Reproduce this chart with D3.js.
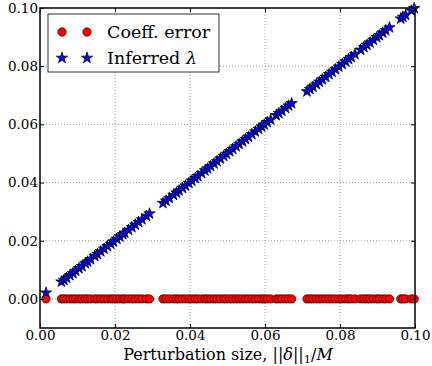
<!DOCTYPE html>
<html>
<head>
<meta charset="utf-8">
<script src="https://cdn.jsdelivr.net/npm/d3@7"></script>
<style>
  body { margin: 0; background: #fff; }
  svg { display: block; }
</style>
</head>
<body>
<div id="chart"></div>
<script>
// taille de la fenêtre
const width = 432;
const height = 366;
const margin = { left: 40, right: 17, top: 8, bottom: 38 };
const serif = "'DejaVu Serif', 'Liberation Serif', serif";

// perturbation size ||delta||_1 / M
const perturbation = [
  0.0016,
  0.0057, 0.0064, 0.0071, 0.0080, 0.0088, 0.0095, 0.0104, 0.0112, 0.0121, 0.0127,
  0.0135, 0.0146, 0.0153, 0.0162, 0.0171, 0.0180, 0.0189, 0.0196, 0.0205, 0.0213,
  0.0221, 0.0226, 0.0236, 0.0245, 0.0254, 0.0263, 0.0272, 0.0284, 0.0292,
  0.0328, 0.0336, 0.0345, 0.0356, 0.0364, 0.0371, 0.0380, 0.0388, 0.0397, 0.0405,
  0.0414, 0.0421, 0.0431, 0.0440, 0.0447, 0.0455, 0.0464, 0.0472, 0.0481, 0.0490,
  0.0497, 0.0506, 0.0514, 0.0523, 0.0531, 0.0540, 0.0548, 0.0556, 0.0565, 0.0574,
  0.0583, 0.0591, 0.0598, 0.0606, 0.0615, 0.0630, 0.0637, 0.0645, 0.0655, 0.0663,
  0.0671,
  0.0712, 0.0720, 0.0728, 0.0737, 0.0745, 0.0753, 0.0762, 0.0771, 0.0779, 0.0788,
  0.0797, 0.0806, 0.0815, 0.0823, 0.0830, 0.0840, 0.0855, 0.0864, 0.0872, 0.0880,
  0.0889, 0.0898, 0.0905, 0.0914, 0.0922, 0.0932,
  0.0962, 0.0968, 0.0975, 0.0990, 0.0998
];

// lambda inféré
const inferredLambda = [
  0.0021,
  0.0059, 0.0065, 0.0072, 0.0081, 0.0088, 0.0096, 0.0105, 0.0112, 0.0122, 0.0128,
  0.0136, 0.0147, 0.0154, 0.0163, 0.0172, 0.0181, 0.0189, 0.0197, 0.0206, 0.0214,
  0.0222, 0.0227, 0.0237, 0.0246, 0.0255, 0.0264, 0.0273, 0.0285, 0.0293,
  0.0329, 0.0337, 0.0346, 0.0357, 0.0365, 0.0372, 0.0381, 0.0389, 0.0398, 0.0406,
  0.0415, 0.0422, 0.0432, 0.0441, 0.0448, 0.0456, 0.0465, 0.0473, 0.0482, 0.0491,
  0.0498, 0.0507, 0.0515, 0.0524, 0.0532, 0.0541, 0.0549, 0.0557, 0.0566, 0.0575,
  0.0584, 0.0592, 0.0599, 0.0607, 0.0616, 0.0631, 0.0638, 0.0646, 0.0656, 0.0664,
  0.0672,
  0.0713, 0.0721, 0.0729, 0.0738, 0.0746, 0.0754, 0.0763, 0.0772, 0.0780, 0.0789,
  0.0798, 0.0807, 0.0816, 0.0824, 0.0831, 0.0841, 0.0856, 0.0865, 0.0873, 0.0881,
  0.0890, 0.0899, 0.0906, 0.0915, 0.0923, 0.0933,
  0.0963, 0.0969, 0.0976, 0.0991, 0.0999
];

// erreur des coefficients (toujours nulle)
const coeffError = [
  0,
  0, 0, 0, 0, 0, 0, 0, 0, 0, 0,
  0, 0, 0, 0, 0, 0, 0, 0, 0, 0,
  0, 0, 0, 0, 0, 0, 0, 0, 0,
  0, 0, 0, 0, 0, 0, 0, 0, 0, 0,
  0, 0, 0, 0, 0, 0, 0, 0, 0, 0,
  0, 0, 0, 0, 0, 0, 0, 0, 0, 0,
  0, 0, 0, 0, 0, 0, 0, 0, 0, 0,
  0,
  0, 0, 0, 0, 0, 0, 0, 0, 0, 0,
  0, 0, 0, 0, 0, 0, 0, 0, 0, 0,
  0, 0, 0, 0, 0, 0,
  0, 0, 0, 0, 0
];

const xTicks = [0.00, 0.02, 0.04, 0.06, 0.08, 0.10];
const yTicks = [0.00, 0.02, 0.04, 0.06, 0.08, 0.10];

const svg = d3.select("#chart")
  .append("svg")
  .attr("width", width)
  .attr("height", height)
  .attr("font-family", serif);

const x = d3.scaleLinear()
  .domain([0, 0.10])
  .range([margin.left, width - margin.right]);

const y = d3.scaleLinear()
  .domain([-0.01, 0.10])
  .range([height - margin.bottom, margin.top]);

// grille pointillée
const grid = svg.append("g")
  .attr("stroke", "#888")
  .attr("stroke-width", 0.8)
  .attr("stroke-dasharray", "1,2");

grid.selectAll("line.gx")
  .data(xTicks.slice(1, -1))
  .enter().append("line")
  .attr("x1", d => x(d)).attr("x2", d => x(d))
  .attr("y1", y(-0.01)).attr("y2", y(0.10));

grid.selectAll("line.gy")
  .data(yTicks.slice(0, -1))
  .enter().append("line")
  .attr("x1", x(0)).attr("x2", x(0.10))
  .attr("y1", d => y(d)).attr("y2", d => y(d));

// cercles rouges
const points = perturbation.map((p, i) => ({ p, err: coeffError[i], lam: inferredLambda[i] }));

svg.append("g")
  .selectAll("circle")
  .data(points)
  .enter().append("circle")
  .attr("cx", d => x(d.p))
  .attr("cy", d => y(d.err))
  .attr("r", 4.2)
  .attr("fill", "#ff0000")
  .attr("stroke", "#000")
  .attr("stroke-width", 0.6);

// étoiles bleues
const star = d3.symbol().type(d3.symbolStar).size(40);

svg.append("g")
  .selectAll("path")
  .data(points)
  .enter().append("path")
  .attr("d", star)
  .attr("transform", d => `translate(${x(d.p)},${y(d.lam)})`)
  .attr("fill", "#0000ff")
  .attr("stroke", "#000")
  .attr("stroke-width", 0.7);

// axes avec ticks vers l'intérieur
const tickLen = 4;
const styleTicks = g => {
  g.select(".domain").remove();
  g.attr("font-family", serif).attr("font-size", 13.5);
  g.selectAll("text").attr("font-family", serif).attr("font-size", 13.5);
};

svg.append("g")
  .attr("transform", `translate(0,${y(-0.01)})`)
  .call(d3.axisBottom(x).tickValues(xTicks).tickFormat(d3.format(".2f")).tickSizeInner(-tickLen).tickSizeOuter(0).tickPadding(2))
  .call(styleTicks);

svg.append("g")
  .attr("transform", `translate(0,${y(0.10)})`)
  .call(d3.axisTop(x).tickValues(xTicks).tickFormat("").tickSizeInner(-tickLen).tickSizeOuter(0))
  .call(styleTicks);

svg.append("g")
  .attr("transform", `translate(${x(0)},0)`)
  .call(d3.axisLeft(y).tickValues(yTicks).tickFormat(d3.format(".2f")).tickSizeInner(-tickLen).tickSizeOuter(0).tickPadding(2))
  .call(styleTicks);

svg.append("g")
  .attr("transform", `translate(${x(0.10)},0)`)
  .call(d3.axisRight(y).tickValues(yTicks).tickFormat("").tickSizeInner(-tickLen).tickSizeOuter(0))
  .call(styleTicks);

// cadre
svg.append("rect")
  .attr("x", x(0)).attr("y", y(0.10))
  .attr("width", x(0.10) - x(0))
  .attr("height", y(-0.01) - y(0.10))
  .attr("fill", "none")
  .attr("stroke", "#000")
  .attr("stroke-width", 1.5);

// légende
const legend = svg.append("g").attr("transform", "translate(48,14)");
legend.append("rect")
  .attr("width", 171).attr("height", 58)
  .attr("fill", "#fff").attr("stroke", "#000").attr("stroke-width", 0.8);

legend.selectAll("circle")
  .data([14, 39])
  .enter().append("circle")
  .attr("cx", d => d).attr("cy", 18).attr("r", 4.2)
  .attr("fill", "#ff0000").attr("stroke", "#000").attr("stroke-width", 0.6);

legend.selectAll("path")
  .data([14, 39])
  .enter().append("path")
  .attr("d", star)
  .attr("transform", d => `translate(${d},44)`)
  .attr("fill", "#0000ff").attr("stroke", "#000").attr("stroke-width", 0.7);

legend.append("text")
  .attr("x", 59).attr("y", 24)
  .attr("font-size", 17.5)
  .text("Coeff. error");

const lt = legend.append("text")
  .attr("x", 59).attr("y", 50)
  .attr("font-size", 17.5);
lt.append("tspan").text("Inferred ");
lt.append("tspan").attr("font-style", "italic").text("λ");

// titre de l'axe x
const xl = svg.append("text")
  .attr("x", 228)
  .attr("y", 360)
  .attr("text-anchor", "middle")
  .attr("font-size", 16);
xl.append("tspan").text("Perturbation size, ||");
xl.append("tspan").attr("font-style", "italic").text("δ");
xl.append("tspan").text("||");
xl.append("tspan").attr("font-size", 11.5).attr("dy", 3).text("1");
xl.append("tspan").attr("dy", -3).text("/");
xl.append("tspan").attr("font-style", "italic").text("M");
</script>
</body>
</html>
